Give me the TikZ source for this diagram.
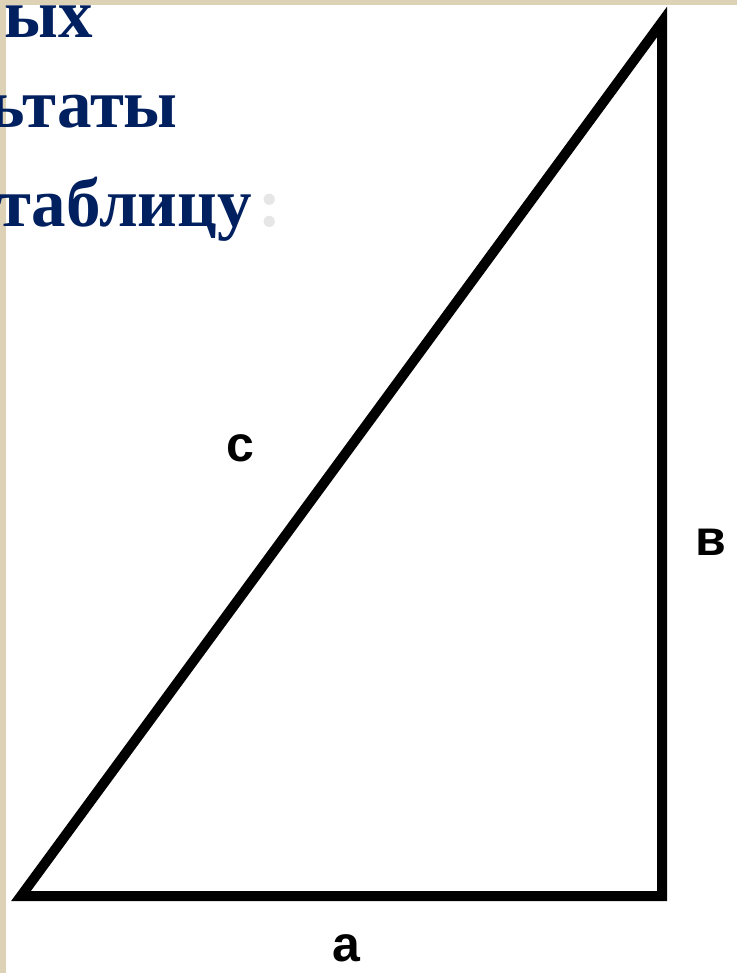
\documentclass[tikz,border=0pt]{standalone}
\usepackage{fontspec}
\setmainfont{Liberation Serif}
\setsansfont{Liberation Sans}
\usetikzlibrary{positioning}
\definecolor{navy}{HTML}{002060}
\definecolor{beige}{HTML}{DDD2B6}
\definecolor{faint}{HTML}{E6E6E6}

\begin{document}
\begin{tikzpicture}[
    x=1pt, y=-1pt,
    title/.style={font=\bfseries\fontsize{69}{76}\selectfont, text=navy, inner sep=0pt, anchor=base east},
    side/.style={font=\sffamily\bfseries\fontsize{50}{56}\selectfont, inner sep=0pt},
    edge/.style={line width=10pt, line join=miter},
]

% Frame
\useasboundingbox (0,0) rectangle (737,973);
\clip (0,0) rectangle (737,973);
\fill[white] (0,0) rectangle (737,973);
\fill[beige] (0,0) rectangle (6,973);
\fill[beige] (0,0) rectangle (737,5);

% Title fragments
\node[title] (line1) at (93,38) {ых};
\node[title] (line2) at (178,128) {ьтаты};
\node[title] (line3) at (252,227) {таблицу};
\node[title, anchor=base west, text=faint] (colon) at (258,227) {:};

% Triangle
\coordinate (A) at (21,896);
\coordinate (B) at (662,896);
\coordinate (C) at (662,22);
\draw[edge] (A) -- (B) -- (C) -- cycle;

% Labels
\node[side] (hyp) at (240,448) {c};
\node[side] (leg b) at (711,542) {в};
\node[side] (leg a) at (346,948) {a};

\end{tikzpicture}
\end{document}
